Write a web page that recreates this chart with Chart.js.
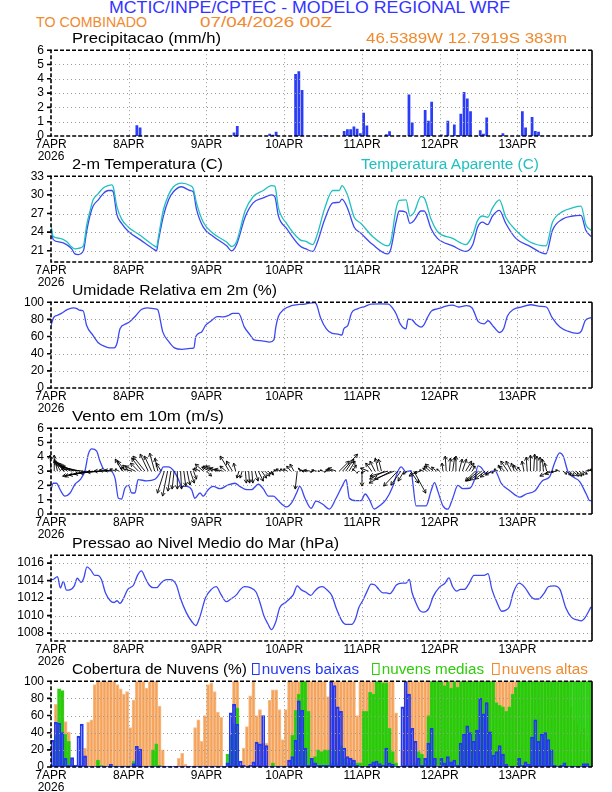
<!DOCTYPE html>
<html lang="pt-BR">
<head>
<meta charset="UTF-8">
<title>Meteograma WRF</title>
<script src="https://cdn.jsdelivr.net/npm/chart.js"></script>
<style>
  body { margin: 0; background: #fff; }
  #page { position: relative; width: 612px; height: 792px; overflow: hidden; background: #fff;
          font-family: "Liberation Sans", Arial, sans-serif; }
  canvas { position: absolute; left: 0; }
  .t { position: absolute; white-space: nowrap; line-height: 1; transform-origin: 0 0; }
  .box { display: inline-block; width: 5px; height: 10px; border: 1.5px solid; margin-right: 2px; vertical-align: -1px; }
</style>
</head>
<body>
<div id="page">
  <canvas id="cPrec" width="612" height="130" style="top:36px"></canvas>
  <canvas id="cTemp" width="612" height="130" style="top:162px"></canvas>
  <canvas id="cRh" width="612" height="130" style="top:288px"></canvas>
  <canvas id="cWind" width="612" height="130" style="top:414px"></canvas>
  <canvas id="cPres" width="612" height="130" style="top:541px"></canvas>
  <canvas id="cCloud" width="612" height="130" style="top:667px"></canvas>

  <div class="t" data-w="401" style="left:109px;top:0px;font-size:16px;color:#3333ff">MCTIC/INPE/CPTEC - MODELO REGIONAL WRF</div>
  <div class="t" data-w="111" style="left:36px;top:14px;font-size:15px;color:#f08a2e">TO COMBINADO</div>
  <div class="t" data-w="132" style="left:200px;top:14px;font-size:15px;color:#f08a2e">07/04/2026 00Z</div>
  <div class="t" data-w="149" style="left:72px;top:31px;font-size:14px;color:#000">Precipitacao (mm/h)</div>
  <div class="t" data-w="201" style="left:366px;top:31px;font-size:14px;color:#f08a2e">46.5389W 12.7919S 383m</div>
  <div class="t" data-w="151" style="left:72px;top:157px;font-size:14px;color:#000">2-m Temperatura (C)</div>
  <div class="t" data-w="178" style="left:361px;top:157px;font-size:14px;color:#1fc0c0">Temperatura Aparente (C)</div>
  <div class="t" data-w="205" style="left:72px;top:283px;font-size:14px;color:#000">Umidade Relativa em 2m (%)</div>
  <div class="t" data-w="152" style="left:72px;top:409px;font-size:14px;color:#000">Vento em 10m (m/s)</div>
  <div class="t" data-w="267" style="left:72px;top:536px;font-size:14px;color:#000">Pressao ao Nivel Medio do Mar (hPa)</div>
  <div class="t" data-w="175" style="left:72px;top:662px;font-size:14px;color:#000">Cobertura de Nuvens (%)</div>
  <div class="t" data-w="107" style="left:252px;top:662px;font-size:14px;color:#2438f0"><span class="box"></span>nuvens baixas</div>
  <div class="t" data-w="112" style="left:372px;top:662px;font-size:14px;color:#2ecc0a"><span class="box"></span>nuvens medias</div>
  <div class="t" data-w="96" style="left:492px;top:662px;font-size:14px;color:#f08a2e"><span class="box"></span>nuvens altas</div>
</div>

<script>
// eixo do tempo: horas desde 07/04/2026 00Z
const HOUR_MAX = 167;
const dayTicks = [0, 24, 48, 72, 96, 120, 144];
const dayLabels = [['7APR', '2026'], '8APR', '9APR', '10APR', '11APR', '12APR', '13APR'];

const precipTicks = [0, 1, 2, 3, 4, 5, 6];
const tempTicks = [21, 24, 27, 30, 33];
const rhTicks = [0, 20, 40, 60, 80, 100];
const windTicks = [0, 1, 2, 3, 4, 5, 6];
const presTicks = [1008, 1010, 1012, 1014, 1016];
const cloudTicks = [0, 20, 40, 60, 80, 100];

// precipitacao (mm/h), por hora
const precipHour = [10, 20, 26, 27, 38, 56, 57, 61, 67, 68, 69, 75, 76, 77, 84, 90, 91, 92, 93, 94, 95, 96, 97,
  103, 104, 107, 110, 111, 115, 116, 117, 120, 122, 124, 125, 126, 127, 128, 129, 132, 133, 134, 139,
  145, 146, 148, 149, 150, 153];
const precipMm = [0.03, 0.03, 0.75, 0.6, 0.03, 0.25, 0.7, 0.02, 0.15, 0.08, 0.3, 4.33, 4.53, 3.22, 0.05, 0.35, 0.47, 0.47, 0.67, 0.5, 0.2, 1.62, 0.73,
  0.12, 0.33, 0.03, 2.9, 0.95, 1.82, 1.07, 2.4, 0.1, 1.07, 0.8, 0.05, 1.55, 3.07, 2.62, 1.73, 0.4, 0.15, 1.29, 0.2,
  1.73, 0.6, 1.33, 0.35, 0.3, 0.03];

// temperatura 2m e aparente (C)
const tempHour = [0, 0.7, 2.8, 4.8, 6.4, 7.4, 8.4, 10, 11, 12, 13, 14.6, 16.1, 17.7, 18.7, 19.2, 20.3, 21.8, 23.9, 27.5,
  31.6, 32.6, 33.1, 34.7, 36.3, 37.8, 40.3, 42.9, 43.9, 44.9, 47, 50.1, 54.2, 55.8, 57.3, 59.9, 62.4, 65.5, 68.1, 69.1,
  70.2, 72.7, 76.8, 78.7, 80.8, 82.3, 84.4, 87, 89, 89.8, 91.5, 93.6, 95.7, 99.3, 103.9, 104.9, 106.5, 107.5, 109.6, 110.8,
  112.1, 114.2, 115.2, 117.3, 119.3, 124, 128.1, 130.2, 131.7, 133.2, 134.8, 136.3, 138.4, 140.4, 143.5, 147.6, 152.8, 154.8, 157.9, 161,
  163.6, 165.1, 166.7];
const temp2m = [24.8, 22.8, 22.4, 22.0, 21.3, 20.5, 20.4, 21.0, 24.1, 26.6, 28.2, 29.2, 30.2, 30.7, 30.7, 30.5, 26.9, 25.4, 24.1, 22.8,
  21.3, 21.0, 22.5, 26.6, 29.2, 30.5, 31.3, 30.7, 30.5, 27.7, 24.8, 23.3, 21.8, 21.0, 22.0, 26.4, 28.7, 29.5, 30.0, 29.7,
  26.6, 24.6, 21.8, 21.3, 20.9, 22.5, 25.9, 28.7, 28.8, 29.3, 27.9, 24.8, 23.8, 22.0, 20.5, 21.3, 25.6, 27.4, 27.2, 25.4,
  25.9, 27.4, 27.4, 24.6, 23.0, 21.8, 20.9, 22.0, 24.8, 25.6, 25.2, 26.6, 27.5, 25.4, 23.0, 21.8, 20.5, 24.3, 26.1, 26.6,
  26.7, 24.3, 23.3];
const tempApp = [25.1, 23.3, 23.0, 22.5, 21.6, 21.3, 21.4, 21.8, 25.1, 27.3, 29.2, 30.2, 31.1, 31.5, 31.6, 31.3, 28.2, 26.1, 24.8, 23.5,
  21.9, 21.6, 23.0, 27.6, 30.0, 31.3, 31.9, 31.5, 31.0, 28.7, 25.6, 23.8, 22.4, 21.7, 22.5, 27.4, 29.7, 30.7, 31.5, 31.4,
  27.9, 25.4, 22.8, 22.5, 22.0, 23.8, 27.7, 30.7, 30.7, 31.5, 30.0, 26.4, 25.4, 23.3, 21.8, 22.5, 27.7, 29.1, 29.2, 26.6,
  27.2, 29.7, 29.5, 26.1, 24.1, 23.0, 22.0, 23.6, 25.9, 26.6, 26.4, 27.9, 29.2, 26.4, 24.3, 22.5, 21.8, 25.6, 27.3, 27.9,
  28.2, 25.2, 24.3];

// umidade relativa (%)
const rhHour = [0, 0.8, 2, 3.2, 5, 6.9, 8, 8.7, 9.9, 11, 12.9, 14.7, 16.5, 18.3, 19.5, 20.4, 21.3, 23.1, 24.3, 26.1,
  27.9, 29.7, 32.1, 32.9, 34.5, 36.3, 38.1, 40.5, 42.9, 44.1, 44.7, 46.5, 47.7, 49.5, 51.3, 53.1, 54.9, 56.1, 57.9, 59.7,
  61.5, 62.7, 65.1, 67.5, 68.8, 69.4, 70.2, 71.8, 74.2, 76.6, 78.4, 79.6, 81.4, 82, 83.2, 85, 86.8, 88.6, 89.8, 90.4,
  91.6, 92.8, 94.6, 97, 98.8, 101.8, 104.2, 105.4, 106.6, 107.8, 109.6, 110.2, 111.4, 112.6, 114.2, 115, 116.2, 117.4, 119.2, 120.4,
  121.6, 124, 125.8, 128.2, 130, 131.9, 133.7, 134.9, 136.7, 138.5, 139.7, 140.9, 142.7, 145.1, 148.1, 151.1, 152.9, 154.7, 157.1, 159.5,
  162.5, 163.7, 164.9, 166.7];
const rhVal = [72.9, 82, 84.8, 87, 91.4, 93.3, 92.6, 90.7, 90, 72.9, 61.7, 52.4, 48.7, 46.8, 46.8, 52.4, 69, 74.7, 77.3, 84,
  91.4, 93.3, 92.2, 91.4, 65.4, 54.3, 46.8, 45, 46.1, 46.8, 59.9, 65.4, 72.9, 78.4, 83.3, 82.9, 84.8, 87, 87, 71,
  61.7, 56.1, 55, 53.5, 56, 71, 83.3, 91.4, 95.9, 97.4, 97.8, 98.9, 99.6, 97, 82, 69, 63.6, 62.8, 61.7, 69,
  72.9, 87.7, 92.2, 95.2, 97.8, 98.1, 97.8, 93.3, 85.9, 74.7, 69, 80.3, 79.6, 74.7, 71, 72.9, 82, 89.6, 92.2, 93.3,
  95.2, 96.7, 94.4, 95.9, 93.3, 77.3, 74.7, 78.4, 71, 64.7, 69, 84, 91.4, 94.4, 97, 95.2, 94.4, 82, 71, 66.2,
  63.6, 66.2, 78.4, 82];

// vento 10m: velocidade (m/s)
const windHour = [0, 0.7, 1.7, 2.8, 4.3, 5.9, 7.4, 9, 10.5, 11.5, 12.6, 14.1, 15.1, 16.7, 18.2, 19.8, 20.8, 21.8, 22.8, 23.9,
  24.9, 25.9, 26.9, 29.5, 32.1, 33.6, 34.7, 36.2, 37.8, 39.3, 40.3, 41.9, 43.4, 44.4, 46, 47, 48.5, 50.1, 52.2, 54.7,
  56.8, 58.3, 60.4, 61.9, 64, 65.5, 67.1, 68.6, 70.7, 72.7, 74.3, 75.8, 76.8, 78.4, 80.3, 81.8, 83.9, 85.9, 88, 90,
  91.1, 92.1, 94.2, 95.7, 97, 98.3, 99.8, 101.4, 103.4, 105.5, 107, 108.1, 109.6, 111.2, 111.7, 112.7, 114.3, 115.8, 117.3, 118.4,
  119.4, 121, 122.5, 124, 125.6, 127.1, 129.2, 130.8, 131.8, 132.8, 134.4, 135.9, 137, 139, 141.6, 144.7, 146.7, 149.3, 151.8, 153.9,
  155.5, 157, 158.1, 159.6, 161.1, 163.2, 165.3, 166.3, 167];
const windSpeed = [1.7, 2.15, 2.15, 1.7, 1.25, 1.47, 2.08, 2.4, 3.04, 4.17, 4.55, 4.4, 3.7, 3.04, 3.04, 2.47, 1.1, 1.05, 1.8, 2.0,
  1.47, 1.47, 2.4, 2.32, 2.43, 2.85, 3.3, 3.3, 3.04, 2.44, 1.93, 1.93, 1.7, 1.1, 1.47, 1.25, 1.7, 1.93, 1.77, 2.04,
  2.15, 1.93, 1.7, 1.7, 2.08, 1.77, 1.25, 1.25, 0.8, 0.5, 0.8, 1.47, 1.93, 1.1, 0.4, 0.9, 0.68, 0.34, 1.1, 2.0,
  2.4, 1.1, 0.93, 0.93, 1.4, 1.0, 0.34, 0.57, 1.0, 1.93, 2.95, 3.3, 2.95, 3.04, 2.15, 0.57, 0.57, 0.57, 1.6, 2.2,
  1.6, 0.57, 0.34, 1.1, 2.0, 1.77, 1.8, 2.45, 3.36, 3.25, 2.8, 2.95, 3.04, 2.15, 1.63, 1.18, 1.4, 1.6, 2.35, 2.6,
  3.6, 4.27, 4.05, 2.95, 2.6, 2.27, 1.36, 0.93, 0.93];

// vetores de vento horarios (componentes u, v em m/s), h = 0..167
const windU = [-0.2, 0, -0.6, -1.2, -1.6, -2.0, -2.4, -2.8, -3.2, -3.6, -4.4, -4.8, -5.0, -4.8, -4.4, -4.0, -3.2, -2.4, -2.0, -1.6,
  -1.2, -0.8, -1.4, -1.6, -1.2, -2.4, -2.0, -1.6, -2.0, -2.4, -1.6, -1.4, -1.0, -0.6, -1.0, -1.4, -1.0, -0.6, -0.4, 0,
  0.2, 0.4, 0.6, 0.8, 0.6, -0.8, -1.2, -1.6, 1.0, -1.6, -2.0, -2.0, -2.0, -1.6, -1.2, -1.8, -1.2, -0.4, -0.4, -0.4,
  0.2, 0.2, 0.2, 0.6, 1.0, 1.0, 1.0, 0.6, 0.4, -0.6, -0.8, -1.0, -0.8, -0.8, -0.8, -0.8, -0.4, -0.4, -0.8, -1.0,
  -1.2, -0.6, -1.0, -0.4, -0.6, -0.4, -0.8, -1.2, -1.6, 2.0, 3.0, 1.6, 1.2, 0.8, -0.6, -0.4, 0, -0.8, -1.6, -1.2,
  -1.0, -0.6, -0.6, -3.0, -3.6, -4.4, -4.0, -2.8, -2.0, -1.2, -0.8, 1.6, 2.4, -1.6, -1.2, -0.8, -0.8, -1.2, -1.6, -1.0,
  -0.6, -0.2, -0.2, 0.2, 0.4, 0, 0.6, 0.8, 1.2, 1.0, 0.6, -2.0, -2.4, -2.4, -2.0, -1.6, -1.2, -0.6, -0.8, -0.6,
  -1.0, -1.4, -1.0, -0.6, -0.8, -0.6, -0.4, -0.2, 0, 0.2, 0, 0, -0.2, -0.4, -2.0, -1.6, -1.0, -0.8, 0.8, 1.0,
  1.0, 1.2, 1.2, 1.0, 1.0, 0.8, 0.6, -0.4];
const windV = [3.2, 3.2, 2.4, 2.0, 1.8, 1.6, 1.4, 1.2, 1.0, 0.8, 0.4, -1.0, -1.0, -0.8, -0.6, -0.4, -0.2, 0, 0.2, 0.2,
  0.4, 0.4, 2.4, 2.0, 1.2, 0.6, 1.0, 1.6, 2.6, 3.0, 3.4, 3.0, 3.6, 2.6, 1.6, -4.4, -5.0, -4.0, -3.6, -3.6,
  -3.6, -3.0, -2.8, -2.4, -1.6, 0.4, 0.6, 1.4, -1.0, 0.8, 1.0, 1.0, 0.6, 0.4, 1.0, 3.0, 2.0, 1.6, -1.4, -1.4,
  -2.4, -2.4, -2.4, -2.0, -2.0, -1.4, -1.0, -0.6, -0.8, -0.4, 0.2, 0.4, 0.4, 0.4, 1.0, 1.4, -3.6, 0.6, 0.2, 0,
  0.2, -0.2, 0.2, 0, 0.2, -0.2, 0.2, 0.4, 0.6, 2.0, 3.4, 2.4, 2.0, 1.2, 0.4, -0.4, -3.0, -0.4, 0.6, 1.6,
  2.0, 2.6, 2.4, -1.6, -1.0, -2.4, -1.6, -3.0, -2.8, -2.0, -0.6, -2.4, -4.4, -1.0, -0.4, 0.2, 0.6, 1.0, 1.4, 0.8,
  0.4, 1.6, 3.0, 2.6, 2.8, 3.0, 2.4, 2.4, 2.0, 1.6, 1.0, -2.0, -2.0, -1.8, -1.6, -1.2, -0.8, -0.4, 0.4, 1.2,
  1.0, 2.0, 2.0, 1.6, 1.2, 0.8, 2.0, 2.8, 3.2, 3.4, 3.0, 2.8, 2.4, 1.6, -1.0, -0.6, -0.2, 0.2, -0.6, -0.8,
  -1.0, -1.0, -1.0, -0.8, -0.6, 0.2, 0.4, 0.2];

// pressao ao nivel medio do mar (hPa)
const presHour = [0, 0.8, 2, 2.9, 3.8, 4.8, 6, 7.2, 8.1, 9.3, 10.1, 11.1, 12.3, 13.5, 14.4, 15.6, 16.8, 18.3, 19.5, 20.4,
  21.3, 22.5, 23.7, 25.5, 26.7, 27.9, 29.1, 30.3, 31.5, 32.7, 33.9, 35.7, 36.9, 38.7, 39.9, 41.7, 43.5, 44.7, 45.9, 47.7,
  49.5, 51, 52.5, 54.1, 55.5, 57.3, 58.5, 59.7, 61.5, 63.3, 64.5, 65.7, 66.9, 68.1, 69.4, 70.6, 72.4, 73.6, 74.8, 76,
  77.2, 78.6, 80.2, 81.4, 82.6, 83.8, 85, 86.8, 88, 89.8, 91, 92.8, 94, 95, 96.2, 97.6, 98.8, 100, 101.2, 102.4,
  103.6, 104.6, 105.4, 106.6, 108.4, 109.6, 110.6, 111.4, 112.6, 113.8, 115, 116.6, 118, 119.8, 121.6, 122.8, 124, 125.2, 126.4, 127.6,
  128.8, 130.6, 132.5, 133.7, 134.9, 136.1, 137.9, 139.1, 140.3, 141.5, 142.7, 144.5, 146.3, 148.1, 149.3, 150.5, 152.3, 153.5, 155.3, 157.1,
  158.9, 160.7, 162.5, 163.7, 164.9, 166.7];
const presVal = [1014.08, 1014.15, 1014.45, 1013.16, 1013.9, 1012.9, 1012.97, 1013.4, 1014.27, 1013.8, 1014.27, 1015.56, 1015.2, 1014.6, 1014.6, 1014.1, 1012.6, 1011.7, 1011.5, 1011.7,
  1011.4, 1012.05, 1013, 1013.5, 1014.6, 1015.1, 1014.3, 1013.5, 1013.2, 1013.2, 1013.7, 1014.1, 1014.1, 1013.5, 1012.05, 1010.4, 1009.3, 1008.85, 1009.8, 1012.05,
  1013, 1013.3, 1012.4, 1011.6, 1011.9, 1012.4, 1013, 1013.3, 1013.2, 1012.7, 1011.5, 1010, 1009.1, 1008.4, 1009.3, 1010.9, 1011.5, 1011.9, 1012.4, 1013.4,
  1012.97, 1012.7, 1012.3, 1012.8, 1013.2, 1013.3, 1013, 1012.2, 1010.9, 1009.4, 1009, 1009, 1009.65, 1010.9, 1011.7, 1012.8, 1013.6, 1013.5, 1013, 1012.6,
  1012.6, 1012.5, 1012.8, 1013.5, 1013.7, 1013.7, 1014.15, 1012.7, 1011.5, 1010.6, 1010.4, 1010.8, 1012.2, 1013.2, 1013.7, 1014.3, 1013.3, 1012.8, 1013, 1013,
  1013.5, 1014.6, 1014.6, 1014.6, 1014.8, 1013, 1011.3, 1010.5, 1010.6, 1011, 1012.6, 1013.7, 1013.2, 1012.2, 1011.9, 1011.9, 1012.6, 1013.3, 1013.4, 1013,
  1010.9, 1009.8, 1009.5, 1009.4, 1009.8, 1011];

// cobertura de nuvens (%), por hora h = 0..166
const cloudLow = [31, 52, 51, 40, 10, 2, 11, 2, 36, 50, 13, 1, 1, 1, 1, 1, 1, 1, 3, 1,
  1, 1, 1, 1, 1, 4, 24, 21, 1, 1, 1, 1, 1, 1, 1, 1, 1, 1, 1, 1,
  1, 1, 1, 1, 1, 1, 1, 1, 1, 1, 1, 1, 1, 1, 5, 63, 73, 50, 7, 2,
  1, 2, 6, 29, 27, 60, 25, 1, 1, 1, 1, 1, 1, 8, 12, 31, 77, 66, 22, 2,
  10, 5, 2, 2, 2, 2, 100, 95, 70, 65, 22, 12, 10, 8, 2, 1, 1, 1, 3, 6,
  7, 4, 2, 22, 5, 3, 1, 1, 70, 100, 85, 45, 30, 10, 2, 10, 28, 45, 10, 1,
  10, 5, 12, 6, 8, 2, 28, 38, 48, 40, 30, 43, 80, 62, 75, 41, 14, 18, 25, 15,
  3, 1, 1, 1, 10, 2, 6, 3, 35, 55, 30, 38, 40, 32, 20, 2, 1, 2, 5, 1,
  1, 1, 1, 1, 4, 4, 1];
const cloudMid = [2, 37, 91, 89, 38, 30, 2, 0, 0, 0, 0, 0, 0, 0, 8, 2, 1, 1, 1, 1,
  1, 1, 1, 1, 1, 7, 1, 0, 0, 0, 0, 20, 27, 2, 0, 0, 0, 0, 0, 0,
  0, 0, 0, 0, 0, 0, 0, 0, 0, 0, 0, 0, 0, 0, 15, 37, 50, 69, 2, 0,
  0, 0, 0, 0, 0, 0, 0, 0, 5, 1, 1, 1, 1, 1, 37, 66, 85, 100, 100, 65,
  10, 12, 20, 18, 20, 20, 5, 20, 5, 25, 10, 5, 5, 5, 5, 5, 65, 65, 87, 85,
  100, 100, 98, 98, 45, 18, 5, 0, 0, 2, 2, 2, 5, 18, 15, 5, 60, 100, 100, 100,
  100, 95, 100, 92, 100, 93, 100, 100, 100, 100, 100, 100, 100, 100, 100, 100, 100, 75, 72, 70,
  65, 70, 85, 93, 100, 100, 100, 100, 100, 100, 100, 100, 100, 100, 100, 100, 100, 100, 100, 100,
  100, 100, 100, 100, 100, 100, 100];
const cloudHigh = [0, 73, 50, 88, 53, 41, 10, 0, 0, 0, 22, 52, 55, 96, 100, 100, 100, 100, 100, 100,
  96, 91, 85, 88, 46, 78, 100, 100, 100, 92, 100, 100, 100, 71, 20, 0, 0, 0, 0, 10,
  16, 3, 0, 0, 46, 55, 30, 60, 96, 98, 88, 64, 58, 0, 0, 0, 100, 100, 0, 22,
  47, 83, 100, 60, 67, 28, 28, 78, 90, 90, 67, 32, 67, 100, 100, 100, 100, 100, 100, 100,
  100, 100, 100, 100, 100, 82, 100, 100, 100, 100, 100, 100, 100, 100, 60, 100, 100, 100, 100, 100,
  100, 100, 100, 100, 100, 100, 63, 0, 20, 100, 100, 100, 100, 100, 100, 100, 100, 100, 100, 100,
  100, 100, 100, 100, 100, 100, 100, 100, 100, 100, 100, 100, 100, 100, 100, 100, 100, 100, 100, 100,
  100, 100, 100, 100, 100, 100, 100, 100, 100, 100, 100, 100, 100, 100, 100, 100, 100, 100, 100, 100,
  70, 55, 50, 40, 45, 30, 55];

const BLUE = '#3b48f2';
const CYAN = '#1fc0c0';
const TICK_FONT = '"Liberation Sans Narrow", "Liberation Sans", Arial, sans-serif';

// grade pontilhada e moldura estilo GrADS
const framePlugin = {
  id: 'frame',
  afterDatasetsDraw(chart) {
    const { ctx, chartArea: a, scales: { x, y } } = chart;
    ctx.save();
    ctx.lineWidth = 1;
    ctx.strokeStyle = '#9a9a9a';
    ctx.setLineDash([1, 3]);
    ctx.beginPath();
    y.ticks.forEach(t => {
      const py = Math.round(y.getPixelForValue(t.value)) + 0.5;
      if (py < a.top + 2 || py > a.bottom - 2) return;
      ctx.moveTo(a.left, py); ctx.lineTo(a.right, py);
    });
    x.ticks.forEach(t => {
      const px = Math.round(x.getPixelForValue(t.value)) + 0.5;
      if (px < a.left + 2 || px > a.right - 2) return;
      ctx.moveTo(px, a.top); ctx.lineTo(px, a.bottom);
    });
    ctx.stroke();

    ctx.strokeStyle = '#000';
    ctx.lineWidth = 1.6;
    ctx.setLineDash([4, 2]);
    ctx.beginPath();
    ctx.moveTo(a.right, a.top); ctx.lineTo(a.left, a.top);
    ctx.lineTo(a.left, a.bottom); ctx.lineTo(a.right, a.bottom);
    ctx.stroke();
    ctx.setLineDash([]);
    ctx.beginPath();
    ctx.moveTo(a.right, a.top); ctx.lineTo(a.right, a.bottom);
    y.ticks.forEach(t => {
      const py = y.getPixelForValue(t.value);
      ctx.moveTo(a.left - 4, py); ctx.lineTo(a.left, py);
    });
    ctx.stroke();
    ctx.restore();
  }
};
Chart.register(framePlugin);

// setas do vento a partir da linha de 3 m/s
const ARROW_BASE = 3;
const ARROW_PX = 5;
const arrowPlugin = {
  id: 'arrows',
  afterDatasetsDraw(chart) {
    const { ctx, scales: { x, y } } = chart;
    const y0 = y.getPixelForValue(ARROW_BASE);
    ctx.save();
    ctx.strokeStyle = '#000';
    ctx.lineWidth = 0.9;
    windU.forEach((u, i) => {
      const x0 = x.getPixelForValue(i);
      const dx = u * ARROW_PX, dy = -windV[i] * ARROW_PX;
      const len = Math.hypot(dx, dy);
      const x1 = x0 + dx, y1 = y0 + dy;
      ctx.beginPath();
      ctx.moveTo(x0, y0); ctx.lineTo(x1, y1);
      if (len > 1) {
        const ang = Math.atan2(dy, dx), hl = Math.min(4, len * 0.45);
        ctx.moveTo(x1, y1); ctx.lineTo(x1 - hl * Math.cos(ang - 0.5), y1 - hl * Math.sin(ang - 0.5));
        ctx.moveTo(x1, y1); ctx.lineTo(x1 - hl * Math.cos(ang + 0.5), y1 - hl * Math.sin(ang + 0.5));
      }
      ctx.stroke();
    });
    ctx.restore();
  }
};

function xAxis() {
  return {
    type: 'linear', min: 0, max: HOUR_MAX, offset: false,
    grid: { display: false, drawTicks: false }, border: { display: false },
    afterBuildTicks: s => { s.ticks = dayTicks.map(v => ({ value: v })); },
    afterFit: s => { s.height = 30; },
    ticks: {
      autoSkip: false, maxRotation: 0, padding: 3, color: '#000',
      font: { family: TICK_FONT, size: 12, lineHeight: 1.0 },
      callback: (v, i) => dayLabels[i]
    }
  };
}

function yAxis(min, max, ticks) {
  return {
    min, max,
    grid: { display: false, drawTicks: false }, border: { display: false },
    afterBuildTicks: s => { s.ticks = ticks.map(v => ({ value: v })); },
    afterFit: s => { s.width = 51; },
    ticks: {
      autoSkip: false, padding: 7, color: '#000', font: { family: TICK_FONT, size: 12 },
      callback: v => String(v)
    }
  };
}

function line(hours, values, color) {
  return {
    type: 'line', data: hours.map((h, i) => ({ x: h, y: values[i] })),
    borderColor: color, borderWidth: 1.3, pointRadius: 0, fill: false,
    cubicInterpolationMode: 'monotone'
  };
}

function makeChart(id, yMin, yMax, yTicks, datasets, plugins) {
  return new Chart(document.getElementById(id), {
    type: 'line',
    data: { datasets },
    options: {
      responsive: false, animation: false,
      layout: { padding: { top: 10, right: 20, left: 0, bottom: 0 } },
      plugins: { legend: { display: false }, tooltip: { enabled: false } },
      scales: { x: xAxis(), y: yAxis(yMin, yMax, yTicks) }
    },
    plugins: plugins || []
  });
}

makeChart('cPrec', 0, 6, precipTicks, [{
  type: 'bar', data: precipHour.map((h, i) => ({ x: h + 0.5, y: precipMm[i] })),
  backgroundColor: '#2a3cf5', barPercentage: 0.85, categoryPercentage: 1
}]);

makeChart('cTemp', 19.2, 33, tempTicks, [
  line(tempHour, tempApp, CYAN),
  line(tempHour, temp2m, BLUE)
]);

makeChart('cRh', 0, 100, rhTicks, [line(rhHour, rhVal, BLUE)]);

makeChart('cWind', 0, 6, windTicks, [line(windHour, windSpeed, BLUE)], [arrowPlugin]);

makeChart('cPres', 1007.1, 1016.9, presTicks, [line(presHour, presVal, BLUE)]);

const cloudBar = (vals, opts) => Object.assign({
  type: 'bar', data: vals.map((v, i) => ({ x: i + 0.5, y: v })),
  barPercentage: 1, categoryPercentage: 1, grouped: false, borderSkipped: false
}, opts);

makeChart('cCloud', 0, 100, cloudTicks, [
  cloudBar(cloudLow, { backgroundColor: 'rgba(0,0,0,0)', borderColor: '#2438f0', borderWidth: 1.5, order: 1 }),
  cloudBar(cloudMid, { backgroundColor: 'rgba(25,200,0,0.8)', borderColor: '#39d21c', borderWidth: 1, order: 2 }),
  cloudBar(cloudHigh, { backgroundColor: '#f5a25b', borderColor: '#f8c18f', borderWidth: 1, order: 3 })
]);

// ajusta a largura dos textos ao original
document.querySelectorAll('.t[data-w]').forEach(el => {
  const w = el.getBoundingClientRect().width;
  if (w > 0) el.style.transform = 'scaleX(' + (el.dataset.w / w) + ')';
});
</script>
</body>
</html>
